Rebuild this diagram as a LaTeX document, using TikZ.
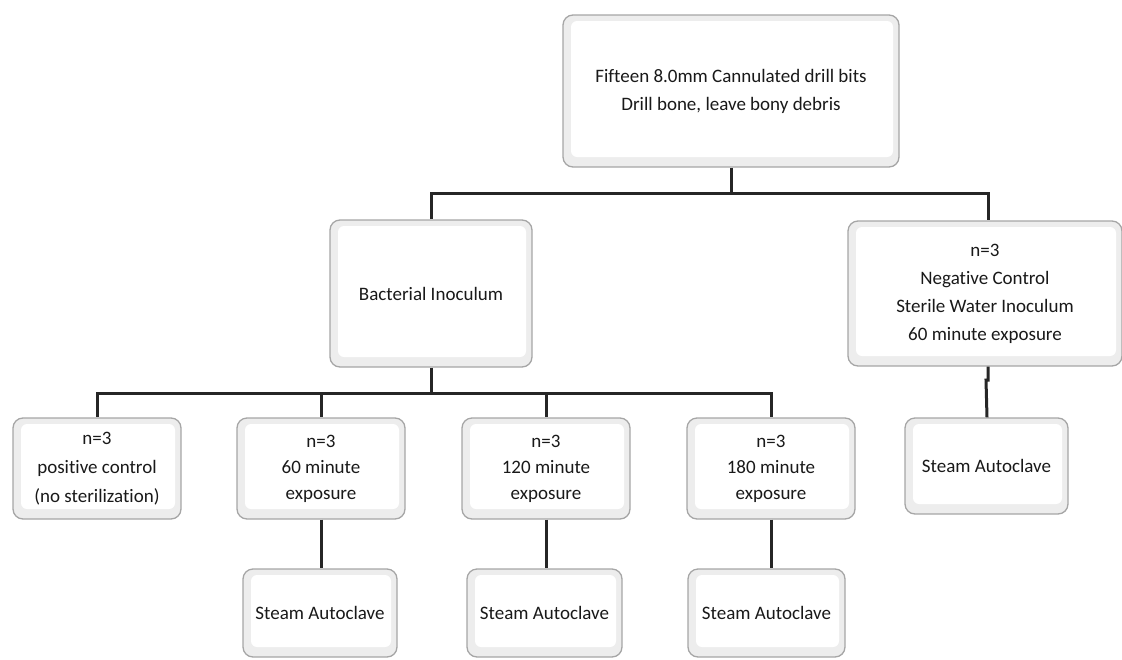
\documentclass[tikz,border=0pt]{standalone}
\usepackage{fontspec}
\setmainfont[Ligatures={NoCommon}]{Carlito}
\begin{document}
\begin{tikzpicture}[x=1pt,y=-1pt,
  bevel/.style={draw=gray!70, line width=1.3pt, rounded corners=10pt, fill=gray!14,
    align=center, inner sep=0pt, text=black!90, font=\fontsize{19}{28}\selectfont,
    path picture={
      \fill[white, rounded corners=6pt]
        ([shift={(8pt,-6pt)}]path picture bounding box.north west) rectangle
        ([shift={(-6pt,10pt)}]path picture bounding box.south east);
    }},
  conn/.style={line width=3pt, draw=black!85}
]
\useasboundingbox (0,0) rectangle (1122,659);
% boxes
\node[bevel, minimum width=336pt, minimum height=152pt] (top) at (731,91)
  {Fifteen 8.0mm Cannulated drill bits\\Drill bone, leave bony debris};
\node[bevel, minimum width=202pt, minimum height=147pt] (bact) at (431,293.5)
  {Bacterial Inoculum};
\node[bevel, minimum width=274pt, minimum height=145pt] (neg) at (985,293.5)
  {n=3\\Negative Control\\Sterile Water Inoculum\\60 minute exposure};
\node[bevel, minimum width=163pt, minimum height=96pt] (sR) at (986.5,466)
  {Steam Autoclave};
\node[bevel, minimum width=168pt, minimum height=101pt, font=\fontsize{19}{29}\selectfont] (b1) at (97,468.5)
  {n=3\\positive control\\(no sterilization)};
\node[bevel, minimum width=168pt, minimum height=101pt, font=\fontsize{19}{26}\selectfont] (b2) at (321,468.5)
  {n=3\\60 minute\\exposure};
\node[bevel, minimum width=168pt, minimum height=101pt, font=\fontsize{19}{26}\selectfont] (b3) at (546,468.5)
  {n=3\\120 minute\\exposure};
\node[bevel, minimum width=168pt, minimum height=101pt, font=\fontsize{19}{26}\selectfont] (b4) at (771,468.5)
  {n=3\\180 minute\\exposure};
\node[bevel, minimum width=154pt, minimum height=88pt] (s2) at (320,613) {Steam Autoclave};
\node[bevel, minimum width=155pt, minimum height=88pt] (s3) at (544.5,613) {Steam Autoclave};
\node[bevel, minimum width=157pt, minimum height=88pt] (s4) at (766.5,613) {Steam Autoclave};
% connectors
\coordinate (j1) at (731,193);
\coordinate (j2) at (431,393);
\coordinate (jog) at (988,380);
\draw[conn] (top.south) -- (j1);
\draw[conn] (j1) -| (bact.north);
\draw[conn] (j1) -| ([xshift=3pt]neg.north);
\draw[conn] (bact.south) -- (j2);
\draw[conn] (j2) -| (b1.north);
\draw[conn] (j2) -| (b2.north);
\draw[conn] (j2) -| (b3.north);
\draw[conn] (j2) -| (b4.north);
\draw[conn] (b2.south) -- (s2.north -| b2.south);
\draw[conn] (b3.south) -- (s3.north -| b3.south);
\draw[conn] (b4.south) -- (s4.north -| b4.south);
\draw[conn] ([xshift=3pt]neg.south) -- (jog) -- ++(-2,0) -- ([xshift=-1pt]jog |- sR.north);
\end{tikzpicture}
\end{document}
